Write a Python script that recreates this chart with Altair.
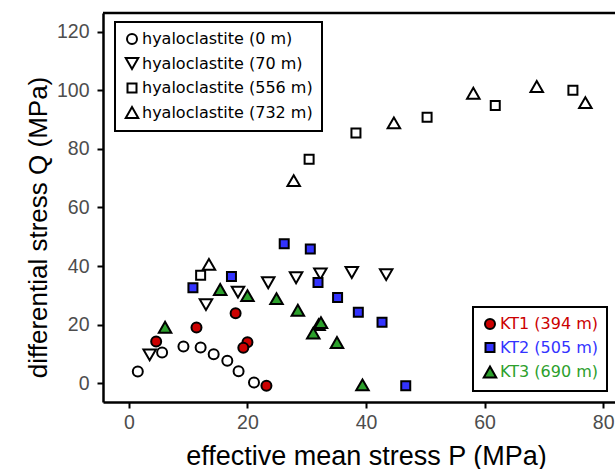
import altair as alt
import pandas as pd

# ---- data ----
h0_p = [1.5, 5.6, 9.2, 12.1, 14.3, 16.6, 18.5, 21.1]
h0_q = [4.0, 10.5, 12.5, 12.2, 9.9, 7.7, 4.1, 0.2]
h70_p = [3.5, 13.0, 18.4, 23.5, 28.2, 32.3, 37.6, 43.4]
h70_q = [9.7, 26.8, 31.1, 34.3, 36.0, 37.3, 37.8, 37.1]
h556_p = [12.1, 30.4, 38.3, 50.3, 61.8, 74.9]
h556_q = [36.9, 76.5, 85.4, 90.8, 94.8, 100.0]
h732_p = [13.5, 27.8, 44.7, 58.1, 68.8, 77.0]
h732_q = [40.6, 69.2, 88.9, 99.0, 101.3, 95.8]

kt1_p = [4.6, 11.4, 18.0, 20.0, 19.3, 23.2]
kt1_q = [14.2, 19.0, 23.9, 14.0, 12.1, -0.9]
kt2_p = [10.8, 17.3, 26.2, 30.6, 31.9, 35.2, 38.7, 42.7, 46.7]
kt2_q = [32.6, 36.4, 47.6, 45.8, 34.4, 29.3, 24.2, 20.8, -0.9]
kt3_p = [6.1, 15.4, 20.0, 24.9, 28.5, 32.0, 32.4, 31.1, 35.1, 39.4]
kt3_q = [19.1, 32.0, 29.9, 28.9, 24.9, 20.0, 20.7, 17.1, 13.9, -0.6]

hyalo_names = ["hyaloclastite (0 m)", "hyaloclastite (70 m)",
               "hyaloclastite (556 m)", "hyaloclastite (732 m)"]
kt_names = ["KT1 (394 m)", "KT2 (505 m)", "KT3 (690 m)"]
kt_colors = ["#CC0000", "#3333FF", "#2CA02C"]

CIRCLE = "circle"
SQUARE = "M-0.9,-0.9H0.9V0.9H-0.9Z"
TRI_UP = "M0,-1.08L1.25,1.08L-1.25,1.08Z"
TRI_DOWN = "M0,1.08L1.25,-1.08L-1.25,-1.08Z"


def long(names, ps, qs):
    rows = []
    for n, p, q in zip(names, ps, qs):
        for a, b in zip(p, q):
            rows.append({"series": n, "P": a, "Q": b})
    return pd.DataFrame(rows)


hyalo_df = long(hyalo_names, [h0_p, h70_p, h556_p, h732_p], [h0_q, h70_q, h556_q, h732_q])
kt_df = long(kt_names, [kt1_p, kt2_p, kt3_p], [kt1_q, kt2_q, kt3_q])

W, H = 512, 389
xdom = [-4.37, 82.0]
ydom = [-6.42, 126.4]

major20 = "datum.value % 20 === 0"
common_axis = dict(
    grid=True, gridColor="white",
    gridWidth={"condition": {"test": major20, "value": 2.4}, "value": 1.4},
    tickOpacity={"condition": {"test": major20, "value": 1}, "value": 0},
    tickColor="black", tickWidth=2, tickSize=6,
    domainColor="black", domainWidth=2.5,
    labelExpr=f"{major20} ? datum.label : ''",
    labelFont="Liberation Sans", labelFontSize=19.5, labelColor="#4D4D4D",
    titleFont="Liberation Sans", titleFontWeight="normal",
    titleColor="black", titleBaseline="alphabetic",
)

x_enc = alt.X("P:Q", scale=alt.Scale(domain=xdom, nice=False, zero=False),
              axis=alt.Axis(values=list(range(0, 90, 10)),
                            title="effective mean stress P (MPa)",
                            titleFontSize=27,
                            titleX=263, titleY=62, titleAlign="center",
                            labelPadding=5, **common_axis))
y_enc = alt.Y("Q:Q", scale=alt.Scale(domain=ydom, nice=False, zero=False),
              axis=alt.Axis(values=list(range(0, 130, 10)),
                            title="differential stress Q (MPa)",
                            titleFontSize=26,
                            titleX=-57, titleY=214, titleAlign="center", titleAngle=270,
                            labelPadding=8, **common_axis))

leg_common = dict(
    title=None, orient="none", fillColor="white", strokeColor="black",
    padding=9, labelFont="DejaVu Sans", labelFontSize=16, labelOffset=2,
    labelLimit=400, rowPadding=5.5, symbolSize=100, symbolStrokeColor="black",
    symbolStrokeWidth=2,
)

leg1 = alt.Legend(legendX=12, legendY=9, labelColor="black", symbolFillColor="white",
                  **leg_common)

label_fill = ("datum.value === 'KT1 (394 m)' ? '#CC0000' : "
              "datum.value === 'KT2 (505 m)' ? '#3333FF' : '#2CA02C'")
leg2 = alt.Legend(legendX=370, legendY=294, labelColor={"expr": label_fill},
                  **leg_common)

hyalo = alt.Chart(hyalo_df).mark_point(
    filled=True, fill="white", strokeWidth=2, size=100, opacity=1
).encode(
    x=x_enc, y=y_enc,
    shape=alt.Shape("series:N",
                    scale=alt.Scale(domain=hyalo_names,
                                    range=[CIRCLE, TRI_DOWN, SQUARE, TRI_UP]),
                    legend=leg1),
    stroke=alt.Stroke("series:N",
                      scale=alt.Scale(domain=hyalo_names, range=["black"] * 4),
                      legend=leg1),
)

kt = alt.Chart(kt_df).mark_point(
    filled=True, strokeWidth=2, size=100, opacity=1
).encode(
    x=x_enc, y=y_enc,
    shape=alt.Shape("series:N",
                    scale=alt.Scale(domain=kt_names, range=[CIRCLE, SQUARE, TRI_UP]),
                    legend=leg2),
    fill=alt.Fill("series:N",
                  scale=alt.Scale(domain=kt_names, range=kt_colors),
                  legend=leg2),
    stroke=alt.Stroke("series:N",
                      scale=alt.Scale(domain=kt_names, range=["black"] * 3),
                      legend=leg2),
)

top_border = alt.Chart(pd.DataFrame({"a": [0]})).mark_rule(
    color="black", strokeWidth=2.5
).encode(x=alt.value(0), x2=alt.value(W), y=alt.value(0))

chart = alt.layer(hyalo, kt, top_border).resolve_scale(
    shape="independent", fill="independent", stroke="independent"
).properties(
    width=W, height=H,
    autosize=alt.AutoSizeParams(type="none"),
    padding={"left": 103, "top": 13, "right": 0, "bottom": 67},
).configure_view(stroke=None, fill="#EBEBEB").configure(
    background="white"
).configure_legend(strokeWidth=2)

chart.save("out.html", embed_options={"renderer": "svg", "actions": False})
